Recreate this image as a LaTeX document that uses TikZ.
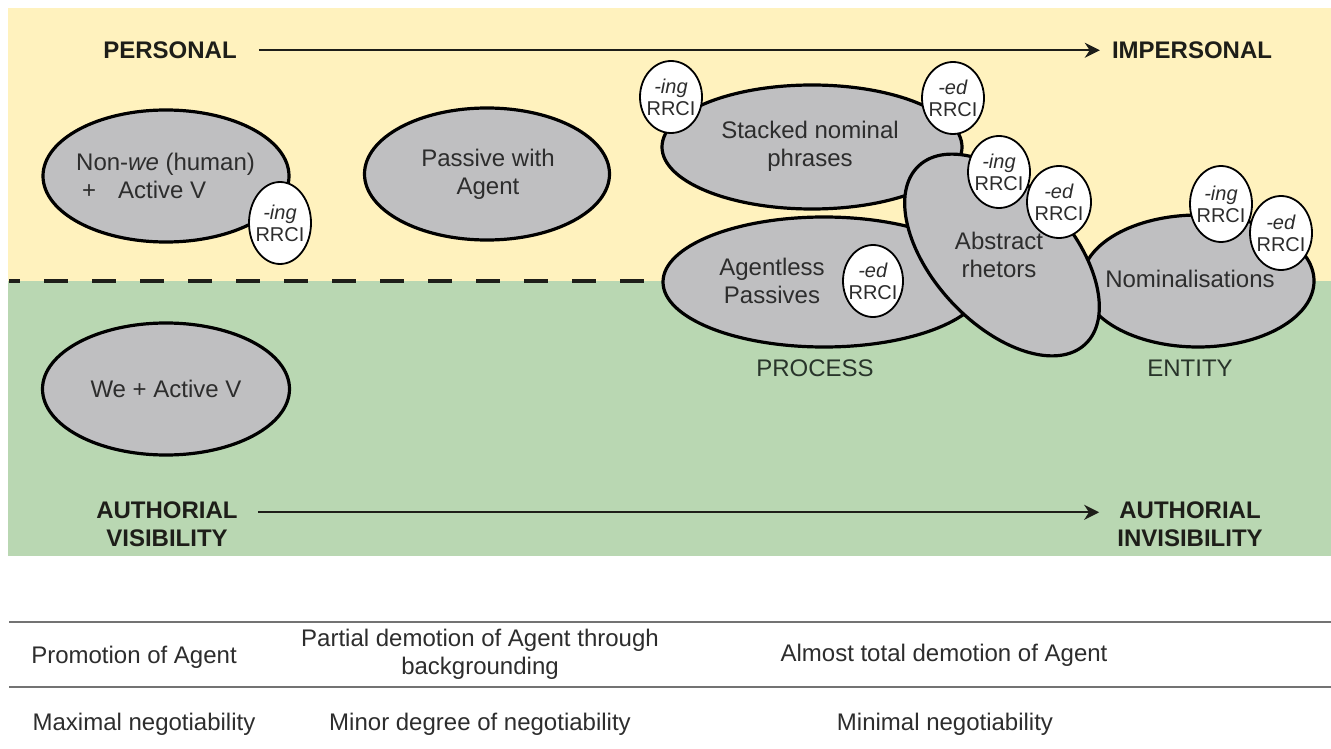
\documentclass[tikz,border=0pt]{standalone}
\usepackage{fontspec}
\setmainfont{Liberation Sans}
\usetikzlibrary{shapes.geometric,arrows.meta}

\definecolor{bgyellow}{RGB}{255,242,190}
\definecolor{bggreen}{RGB}{185,215,178}
\definecolor{blobgray}{RGB}{191,191,193}
\definecolor{inktext}{RGB}{45,45,45}
\definecolor{darkink}{RGB}{30,30,25}
\definecolor{poleink}{RGB}{40,52,42}
\definecolor{rulegray}{RGB}{115,115,115}

\begin{document}
\begin{tikzpicture}[x=1pt,y=-1pt,
  blob/.style={ellipse,draw=black,line width=3.2pt,fill=blobgray,inner sep=0pt},
  tagshape/.style={ellipse,draw=black,line width=1.8pt,fill=white,inner sep=0pt,minimum width=62pt},
  tagtext/.style={align=center,font=\fontsize{20}{22}\selectfont,text=inktext,inner sep=0pt},
  blobtext/.style={align=center,font=\fontsize{24}{28}\selectfont,text=inktext,inner sep=0pt},
  axislabel/.style={align=center,font=\bfseries\fontsize{24}{28}\selectfont,text=darkink,inner sep=0pt},
  polelabel/.style={font=\fontsize{24}{28}\selectfont,text=poleink,inner sep=0pt,anchor=base},
  flow/.style={line width=2pt,draw=darkink,-{Stealth[length=15pt,width=15pt]}},
  cell/.style={align=center,font=\fontsize{24}{28}\selectfont,text=inktext,inner sep=0pt},
  rowrule/.style={line width=1.5pt,draw=rulegray},
]
\useasboundingbox (0,0) rectangle (1331,749);
\fill[white] (0,0) rectangle (1331,749);

% background bands
\fill[bgyellow] (8,8) rectangle (1331,281);
\fill[bggreen] (8,281) rectangle (1331,556);

% dashed divider
\coordinate (div-l) at (9,281);
\coordinate (div-r) at (663,281);
\draw[line width=4pt,draw=darkink,dash pattern=on 24pt off 24pt,dash phase=13pt] (div-l) -- (div-r);

% axis labels and arrows
\node[axislabel,anchor=base] (personal) at (170,58.5) {PERSONAL};
\node[axislabel,anchor=base] (impersonal) at (1192,58.5) {IMPERSONAL};
\draw[flow] ([xshift=22pt]personal.east) -- ([xshift=-12pt]impersonal.west);

\node[axislabel] (authvis) at (167,524) {AUTHORIAL\\VISIBILITY};
\node[axislabel] (authinvis) at (1190,524) {AUTHORIAL\\INVISIBILITY};
\draw[flow] ([xshift=20pt,yshift=-11pt]authvis.north east) -- ([xshift=-18pt,yshift=-11pt]authinvis.north west);

% left-hand ellipses
\node[blob,minimum width=246pt,minimum height=132pt] (nonwe) at (166,176) {};
\node[blobtext,align=left,anchor=west] (nonwe-t) at (76,176) {Non-\textit{we} (human)\\\hspace*{6pt}+\hspace*{22pt}Active V};
\node[tagshape,minimum height=82pt] (nonwe-ing) at (280,223) {};
\node[tagtext] at (nonwe-ing.center) {\textit{-ing}\\RRCI};

\node[blob,minimum width=245pt,minimum height=132pt] (passive) at (487,174) {};
\node[blobtext] (passive-t) at (488,174) {Passive with\\Agent};

\node[blob,minimum width=247pt,minimum height=132pt] (we) at (166,389) {};
\node[blobtext,anchor=base] (we-t) at (166,397) {We + Active V};

% stacked nominal phrases
\node[blob,minimum width=300pt,minimum height=124pt] (stacked) at (812,147) {};
\node[blobtext] (stacked-t) at (810,146) {Stacked nominal\\phrases};
\node[tagshape,minimum height=72pt] (stacked-ing) at (671,97) {};
\node[tagtext] at (stacked-ing.center) {\textit{-ing}\\RRCI};
\node[tagshape,minimum height=72pt] (stacked-ed) at (953,98) {};
\node[tagtext] at (stacked-ed.center) {\textit{-ed}\\RRCI};

% agentless passives
\node[blob,minimum width=322pt,minimum height=130pt] (agentless) at (824,282) {};
\node[blobtext] (agentless-t) at (772,281) {Agentless\\Passives};
\node[tagshape,minimum width=60pt,minimum height=72pt] (agentless-ed) at (873,281) {};
\node[tagtext] at (agentless-ed.center) {\textit{-ed}\\RRCI};

% nominalisations
\node[blob,minimum width=232pt,minimum height=132pt] (nominal) at (1198,281) {};
\node[blobtext,anchor=base] (nominal-t) at (1190,287) {Nominalisations};
\node[tagshape,minimum height=76pt] (nominal-ing) at (1221,204) {};
\node[tagtext] at (nominal-ing.center) {\textit{-ing}\\RRCI};
\node[tagshape,minimum height=74pt] (nominal-ed) at (1281,233) {};
\node[tagtext] at (nominal-ed.center) {\textit{-ed}\\RRCI};

% abstract rhetors, tilted and on top
\node[blob,minimum width=244pt,minimum height=138pt,rotate=-47] (abstract) at (1002,255) {};
\node[blobtext] (abstract-t) at (999,255) {Abstract\\rhetors};
\node[tagshape,minimum height=72pt] (abstract-ing) at (999,172) {};
\node[tagtext] at (abstract-ing.center) {\textit{-ing}\\RRCI};
\node[tagshape,minimum width=64pt,minimum height=72pt] (abstract-ed) at (1059,202) {};
\node[tagtext] at (abstract-ed.center) {\textit{-ed}\\RRCI};

% pole labels
\node[polelabel] (process) at (815,376.5) {PROCESS};
\node[polelabel] (entity) at (1190,376.5) {ENTITY};

% summary table
\draw[rowrule] (9,622) -- (1331,622);
\draw[rowrule] (9,687) -- (1331,687);
\node[cell,anchor=base] (r1c1) at (134,663) {Promotion of Agent};
\node[cell] (r1c2) at (480,654) {Partial demotion of Agent through\\backgrounding};
\node[cell,anchor=base] (r1c3) at (944,661.5) {Almost total demotion of Agent};
\node[cell,anchor=base] (r2c1) at (144,730.5) {Maximal negotiability};
\node[cell,anchor=base] (r2c2) at (480,730.5) {Minor degree of negotiability};
\node[cell,anchor=base] (r2c3) at (945,730.5) {Minimal negotiability};
\end{tikzpicture}
\end{document}
